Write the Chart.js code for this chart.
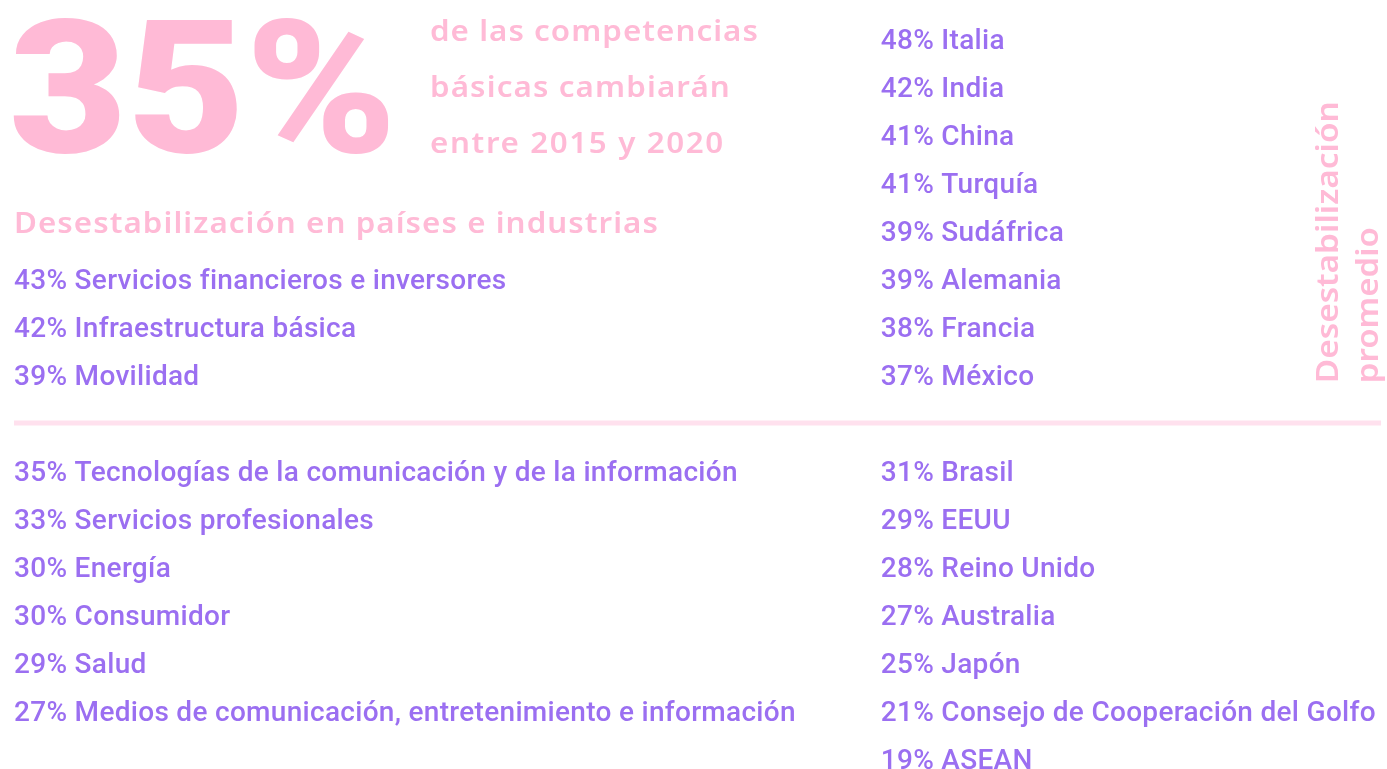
<!DOCTYPE html>
<html>
<head>
<meta charset="utf-8">
<script src="https://cdn.jsdelivr.net/npm/chart.js@4.4.0/dist/chart.umd.min.js"></script>
<style>
  html, body { margin: 0; padding: 0; background: #fff; }
  #wrap { width: 1387px; height: 769px; position: relative; }
</style>
</head>
<body>
<div id="wrap"><canvas id="myChart"></canvas></div>
<script>
const ctx = document.getElementById('myChart').getContext("2d");

// headline
const bigNumber = "35%";
const headline = ["de las competencias", "básicas cambiarán", "entre 2015 y 2020"];
const sectionTitle = "Desestabilización en países e industrias";
const sideTitle = ["Desestabilización", "promedio"];

// industrias (above / below the divider)
const industriasTop = ["Servicios financieros e inversores", "Infraestructura básica", "Movilidad"];
const industriasTopValues = [43, 42, 39];
const industriasBottom = [
  "Tecnologías de la comunicación y de la información",
  "Servicios profesionales",
  "Energía",
  "Consumidor",
  "Salud",
  "Medios de comunicación, entretenimiento e información",
];
const industriasBottomValues = [35, 33, 30, 30, 29, 27];

// países
const paisesTop = ["Italia", "India", "China", "Turquía", "Sudáfrica", "Alemania", "Francia", "México"];
const paisesTopValues = [48, 42, 41, 41, 39, 39, 38, 37];
const paisesBottom = ["Brasil", "EEUU", "Reino Unido", "Australia", "Japón", "Consejo de Cooperación del Golfo", "ASEAN"];
const paisesBottomValues = [31, 29, 28, 27, 25, 21, 19];

const PINK = "#ffbad6";
const PURPLE = "#9b6ff1";
const LEFT_COL = 0.0101;
const RIGHT_COL = 0.635;
const DIVIDER_ROW = 8;

// rows: one per line, the lists sit in a 16-row grid
function rows(names, values, col, firstRow) {
  return names.map((n, i) => ({ x: col, y: firstRow + i, label: values[i] + "% " + n }));
}

const industriasPts = rows(industriasTop, industriasTopValues, LEFT_COL, 5)
  .concat(rows(industriasBottom, industriasBottomValues, LEFT_COL, DIVIDER_ROW + 1));
const paisesPts = rows(paisesTop, paisesTopValues, RIGHT_COL, 0)
  .concat(rows(paisesBottom, paisesBottomValues, RIGHT_COL, DIVIDER_ROW + 1));

// draw a line stretched (half spacing, half glyph width) to its original width
function drawFit(c, text, font, width, x, y, rot) {
  c.font = font;
  c.letterSpacing = "0px";
  const w = c.measureText(text).width;
  const sx = Math.min(1.08, width / w);
  const rest = width / sx - w;
  c.letterSpacing = (rest / text.length).toFixed(2) + "px";
  c.save();
  c.translate(x, y);
  if (rot) c.rotate(rot);
  c.scale(sx, 1);
  c.fillText(text, 0, 0);
  c.restore();
}

const PINK_FONT = "600 29px 'Noto Sans'";

const textPlugin = {
  id: "textPlugin",
  afterDatasetsDraw(chart) {
    const c = chart.ctx;
    const xs = chart.scales.x, ys = chart.scales.y;
    c.save();
    c.textBaseline = "alphabetic";
    // list items
    c.font = "500 28px Roboto";
    c.letterSpacing = "0.3px";
    c.fillStyle = PURPLE;
    [1, 2].forEach(di => {
      const meta = chart.getDatasetMeta(di);
      const pts = chart.data.datasets[di].data;
      meta.data.forEach((el, i) => {
        c.fillText(pts[i].label, el.x, el.y + 10);
      });
    });

    c.fillStyle = PINK;
    // big number
    c.letterSpacing = "0px";
    c.font = "900 186px Roboto";
    let w = c.measureText(bigNumber).width;
    c.save();
    c.translate(xs.getPixelForValue(0.0065), ys.getPixelForValue(2.36));
    c.scale(388 / w, 1);
    c.fillText(bigNumber, 0, 0);
    c.restore();

    // headline lines
    const hw = [329, 301, 295];
    headline.forEach((t, i) => {
      drawFit(c, t, PINK_FONT, hw[i], xs.getPixelForValue(0.31), ys.getPixelForValue(-0.19 + i * 1.17) + 11);
    });

    // section title
    drawFit(c, sectionTitle, PINK_FONT, 645, xs.getPixelForValue(LEFT_COL), ys.getPixelForValue(3.81) + 11);

    // rotated side title
    const sw = [282, 156];
    sideTitle.forEach((t, i) => {
      drawFit(c, t, "600 31px 'Noto Sans'", sw[i],
        xs.getPixelForValue(0.9647 + i * 0.0288), ys.getPixelForValue(7.17), -Math.PI / 2);
    });
    c.restore();
  }
};

const config = {
  type: "scatter",
  data: {
    datasets: [
      {
        type: "line",
        data: [{ x: LEFT_COL, y: DIVIDER_ROW }, { x: 0.9957, y: DIVIDER_ROW }],
        borderColor: "#ffe1ee",
        borderWidth: 5,
        pointRadius: 0,
      },
      { data: industriasPts, pointRadius: 0, hoverRadius: 0 },
      { data: paisesPts, pointRadius: 0, hoverRadius: 0 },
    ],
  },
  options: {
    responsive: true,
    maintainAspectRatio: false,
    animation: false,
    layout: { padding: { top: 39, bottom: 10, left: 0, right: 0 } },
    plugins: { legend: { display: false }, tooltip: { enabled: false } },
    scales: {
      x: { type: "linear", min: 0, max: 1, display: false },
      y: { type: "linear", min: 0, max: 15, reverse: true, display: false },
    },
  },
  plugins: [textPlugin],
};

const myChart = new Chart(ctx, config);
</script>
</body>
</html>
